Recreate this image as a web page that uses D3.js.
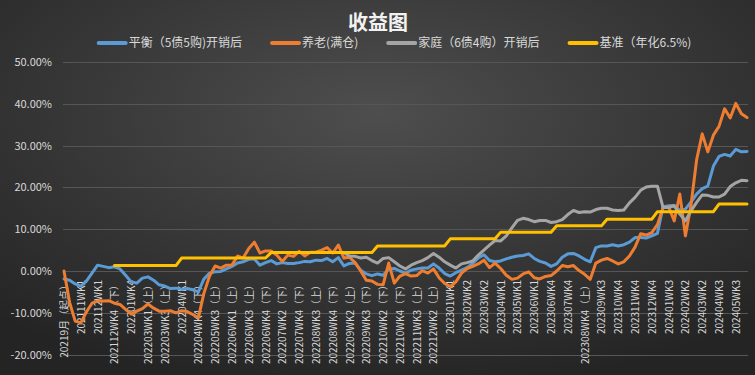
<!DOCTYPE html>
<html>
<head>
<meta charset="utf-8">
<script src="https://cdn.jsdelivr.net/npm/d3@7"></script>
<style>
  html, body { margin: 0; padding: 0; background: #262626; }
  svg { display: block; font-family: "Noto Sans CJK SC", "Noto Sans", sans-serif; }
</style>
</head>
<body>
<svg id="chart" width="755" height="375"></svg>
<script>
const chartTitle = "收益图";
const seriesNames = ["平衡（5债5购)开销后", "养老(满仓)", "家庭（6债4购）开销后", "基准（年化6.5%)"];
const seriesColors = ["#5b9bd5", "#ed7d31", "#a5a5a5", "#ffc000"];
const yTicks = [-20, -10, 0, 10, 20, 30, 40, 50];
const pointsPerLabel = 3;

const xLabels = [
  "20219月（起点）", "202111WK1", "202112WK1", "202112WK4（下）", "202201WK4",
  "202203WK1（上）", "202203WK3（上）", "202204WK1", "202204WK4（下）", "202205WK3（上）",
  "202206WK1（上）", "202206WK3（上）", "202206WK4（下）", "202207WK2（下）", "202207WK4（下）",
  "202208WK3（上）", "202208WK4（下）", "202209WK2（上）", "202209WK3（下）", "202210WK2（下）",
  "202210WK4（下）", "202211WK3（上）", "202212WK2（上）", "202301WK1", "202302WK2",
  "202303WK2", "202304WK1", "202305WK1", "202306WK1", "202306WK4",
  "202307WK4", "202308WK4（上）", "202309WK3", "202310WK4", "202311WK4",
  "202312WK4", "202401WK3", "202402WK2", "202403WK2", "202404WK3", "202405WK3"
];

// weekly returns in %
const balanced = [
  -1.9, -2.2, -3.1, -3.6, -2.4, -0.5, 1.4, 1.1, 0.8, 1.0,
  0.5, -1.0, -2.6, -2.9, -1.7, -1.4, -2.2, -3.3, -3.6, -4.2,
  -4.1, -4.4, -4.2, -4.5, -5.0, -1.9, -0.5, -0.2, -0.1, 0.5,
  1.1, 1.9, 2.2, 2.8, 2.9, 1.4, 2.0, 2.5, 1.7, 2.0,
  1.8, 1.8, 2.0, 2.3, 2.2, 2.6, 2.5, 3.0, 2.2, 3.2,
  1.2, 1.8, 1.9, 0.2, -0.7, -1.1, -0.7, -1.0, 0.5, 0.6,
  0.0, -0.5, 0.2, 0.5, 0.7, 0.7, 1.7, 0.7, -0.6, -1.2,
  -0.4, 0.2, 0.8, 1.8, 3.1, 3.9, 2.5, 2.2, 2.4, 2.9,
  3.3, 3.6, 3.7, 4.1, 3.0, 2.3, 1.9, 1.1, 1.7, 3.3,
  4.1, 4.2, 3.6, 2.8, 2.2, 5.6, 6.0, 6.0, 6.3, 6.0,
  6.3, 6.9, 8.0, 8.0, 7.9, 8.4, 9.0, 15.4, 15.6, 15.7,
  14.5, 14.8, 16.5, 18.4, 19.7, 20.3, 25.1, 27.4, 27.9, 27.5,
  29.1, 28.5, 28.6
];

const pension = [
  0.0, -7.5, -12.0, -12.4, -9.8, -7.7, -7.2, -7.2, -7.1, -7.7,
  -8.0, -9.2, -10.3, -9.6, -9.0, -7.9, -8.9, -9.6, -9.6, -9.5,
  -10.0, -9.5, -9.7, -10.4, -11.2, -5.3, -1.2, 1.2, 0.7, 1.4,
  1.4, 3.6, 3.1, 5.4, 6.9, 4.3, 4.8, 4.8, 3.8, 2.3,
  3.8, 3.5, 4.7, 3.6, 4.5, 4.5, 5.0, 5.6, 4.3, 6.2,
  3.1, 3.3, 2.0, 0.0, -2.2, -2.4, -3.2, -3.3, 1.9, -2.9,
  -1.2, -0.6, -1.2, -1.1, 0.1, -0.5, 0.5, -1.6, -3.0, -3.7,
  -2.6, -0.5, 0.6, 1.1, 1.7, 2.6, 0.8, 1.9, 0.6, -1.0,
  -2.0, -1.7, -0.7, -0.2, -1.6, -1.9, -1.3, -1.1, 0.0, 1.3,
  1.0, 1.3, 0.1, -0.8, -2.0, 1.9, 2.6, 3.0, 2.4, 1.7,
  2.2, 3.6, 5.7, 8.9, 8.6, 9.2, 11.1, 15.1, 15.3, 12.0,
  18.4, 8.4, 15.8, 26.6, 32.8, 28.5, 32.5, 34.6, 38.8, 36.6,
  40.1, 37.6, 36.7
];

const family = [
  null, null, null, null, null, null, null, null, null, null,
  null, null, null, null, null, null, null, null, null, null,
  null, null, null, null, null, null, null, null, null, null,
  null, null, null, null, null, null, null, null, null, null,
  null, null, null, null, null, null, null, null, null, null,
  4.4, 3.6, 3.5, 3.1, 3.3, 2.5, 1.9, 3.0, 3.2, 2.2,
  1.2, 0.5, 1.4, 2.0, 2.5, 3.2, 4.2, 3.3, 2.2, 1.4,
  0.7, 1.7, 2.0, 2.4, 3.8, 5.0, 6.2, 7.3, 7.2, 8.4,
  10.3, 12.1, 12.6, 12.3, 11.8, 12.1, 12.1, 11.6, 11.8, 12.3,
  13.5, 14.5, 14.0, 14.2, 14.1, 14.7, 15.0, 15.0, 14.6, 14.5,
  14.6, 16.3, 17.6, 19.3, 20.1, 20.3, 20.3, 15.2, 15.2, 15.6,
  13.6, 12.0, 14.4, 16.4, 18.2, 18.1, 17.7, 17.7, 18.4, 20.2,
  21.1, 21.7, 21.6
];

const benchmark = [
  null, null, null, null, null, null, null, null, null, 1.3,
  1.3, 1.3, 1.3, 1.3, 1.3, 1.3, 1.3, 1.3, 1.3, 1.3,
  1.3, 3.1, 3.1, 3.1, 3.1, 3.1, 3.1, 3.1, 3.1, 3.1,
  3.1, 3.1, 3.1, 3.1, 3.1, 3.1, 3.1, 4.4, 4.4, 4.4,
  4.4, 4.4, 4.4, 4.4, 4.4, 4.4, 4.4, 4.4, 4.4, 4.4,
  4.4, 4.4, 4.4, 4.4, 4.4, 4.4, 6.0, 6.0, 6.0, 6.0,
  6.0, 6.0, 6.0, 6.0, 6.0, 6.0, 6.0, 6.0, 6.0, 7.7,
  7.7, 7.7, 7.7, 7.7, 7.7, 7.7, 7.7, 7.7, 9.3, 9.3,
  9.3, 9.3, 9.3, 9.3, 9.3, 9.3, 9.3, 9.3, 10.8, 10.8,
  10.8, 10.8, 10.8, 10.8, 10.8, 10.8, 10.8, 12.4, 12.4, 12.4,
  12.4, 12.4, 12.4, 12.4, 12.4, 12.4, 14.2, 14.2, 14.2, 14.2,
  14.2, 14.2, 14.2, 14.2, 14.2, 14.2, 14.2, 16.0, 16.0, 16.0,
  16.0, 16.0, 16.0
];

const series = [balanced, pension, family, benchmark];

const width = 755, height = 375;
const margin = { top: 62, right: 7, bottom: 20, left: 63 };

const svg = d3.select("#chart");

// background
const defs = svg.append("defs");
const grad = defs.append("radialGradient")
    .attr("id", "bg")
    .attr("cx", "50%").attr("cy", "30%").attr("r", "75%");
grad.append("stop").attr("offset", "0%").attr("stop-color", "#4e4e4e");
grad.append("stop").attr("offset", "100%").attr("stop-color", "#242424");
svg.append("rect").attr("width", width).attr("height", height).attr("fill", "url(#bg)");

const n = balanced.length;
const x = d3.scalePoint()
    .domain(d3.range(n))
    .range([64, 747]);

const y = d3.scaleLinear()
    .domain([-20, 50])
    .range([354.6, 62]);

// grid
svg.append("g")
  .selectAll("line")
  .data(yTicks)
  .enter().append("line")
    .attr("x1", 63)
    .attr("x2", 748)
    .attr("y1", d => Math.round(y(d)) + 0.5)
    .attr("y2", d => Math.round(y(d)) + 0.5)
    .attr("stroke", "#565656")
    .attr("stroke-width", 1);

// y axis labels
const yAxis = g => g
    .attr("transform", "translate(55,0)")
    .call(d3.axisLeft(y)
          .tickValues(yTicks)
          .tickSize(0)
          .tickPadding(3)
          .tickFormat(d => d.toFixed(2) + "%"))
    .call(g => g.select(".domain").remove())
    .call(g => g.selectAll("text")
          .attr("fill", "#d9d9d9")
          .style("font-size", "11px")
          .style("font-family", "\"Noto Sans CJK SC\", sans-serif"));
svg.append("g").call(yAxis);

// x axis labels (every 3rd week)
const labelIdx = xLabels.map((d, i) => i * pointsPerLabel);
const xAxis = g => g
    .attr("transform", `translate(0,${y(0)})`)
    .call(d3.axisBottom(x)
          .tickValues(labelIdx)
          .tickSize(0)
          .tickFormat(d => xLabels[d / pointsPerLabel]))
    .call(g => g.select(".domain").remove())
    .call(g => g.selectAll("text")
          .attr("transform", "rotate(-90)")
          .attr("x", -9)
          .attr("y", 0)
          .attr("dy", "0.35em")
          .style("text-anchor", "end")
          .attr("fill", "#d9d9d9")
          .style("font-size", "10px")
          .style("font-family", "\"Noto Sans CJK SC\", sans-serif"));
svg.append("g").call(xAxis);

// lines
const line = d3.line()
    .defined(d => d != null)
    .x((d, i) => x(i))
    .y(d => y(d));

svg.append("g")
  .selectAll("path")
  .data(series)
  .enter().append("path")
    .attr("d", d => line(d))
    .attr("fill", "none")
    .attr("stroke", (d, i) => seriesColors[i])
    .attr("stroke-width", 3)
    .attr("stroke-linejoin", "round")
    .attr("stroke-linecap", "round");

// title
svg.append("text")
    .attr("x", 378)
    .attr("y", 30)
    .attr("text-anchor", "middle")
    .attr("fill", "#f2f2f2")
    .style("font-size", "20px")
    .style("font-weight", "bold")
    .text(chartTitle);

// legend
const legend = svg.append("g");
const items = legend.selectAll("g")
    .data(seriesNames)
    .enter().append("g");
items.append("line")
    .attr("x1", 0).attr("x2", 27)
    .attr("y1", 0).attr("y2", 0)
    .attr("stroke", (d, i) => seriesColors[i])
    .attr("stroke-width", 4)
    .attr("stroke-linecap", "round");
items.append("text")
    .attr("x", 30)
    .attr("dy", "0.35em")
    .attr("fill", "#d9d9d9")
    .style("font-size", "12px")
    .text(d => d);

let widths = [];
items.each(function() { widths.push(this.getBBox().width); });
const gap = 30;
const total = d3.sum(widths) + gap * (widths.length - 1);
let cursor = 395 - total / 2;
items.attr("transform", (d, i) => {
  const t = `translate(${cursor},43)`;
  cursor += widths[i] + gap;
  return t;
});
</script>
</body>
</html>
